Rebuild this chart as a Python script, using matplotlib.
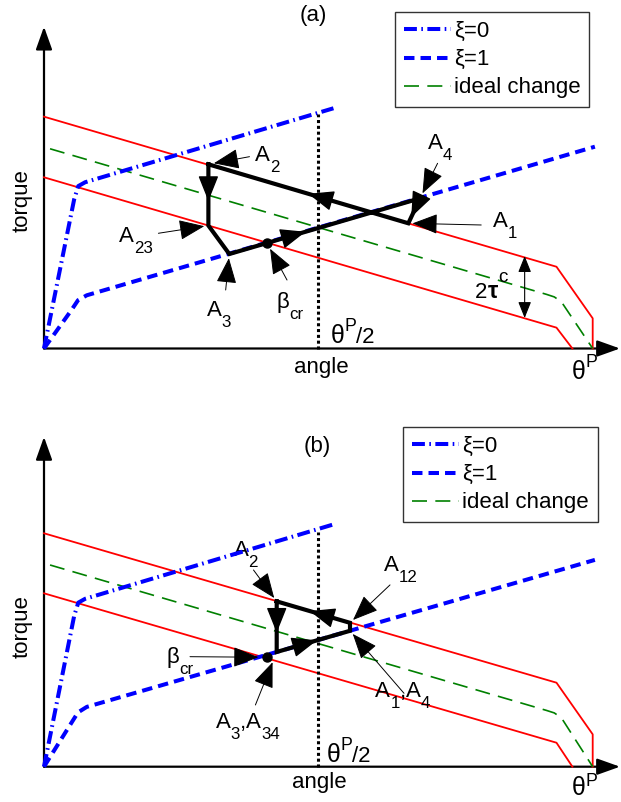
import numpy as np
import matplotlib
matplotlib.use("Agg")
import matplotlib.pyplot as plt
from matplotlib.lines import Line2D
from matplotlib.transforms import offset_copy

plt.rcParams['font.family'] = ['Liberation Sans', 'DejaVu Sans']

W, H, DPI = 621, 802, 100
PX = 548.7        # pixels per unit angle (theta^P = 1)
X0 = 44           # pixel column of the torque axis
HALF = 0.5        # theta^P / 2

# ---------------- panel (a) ----------------
UPPER_A_X = [0.0, 0.934, 1.0, 1.0]
UPPER_A_Y = [0.4225, 0.149, 0.055, 0.0]
LOWER_A_X = [0.0, 0.934, 0.963]
LOWER_A_Y = [0.312, 0.038, 0.0]
IDEAL_A_X = [0.011, 0.916, 0.930, 0.943, 1.0]
IDEAL_A_Y = [0.364, 0.0986, 0.094, 0.085, 0.0]
XI0_A_X = [0.0, 0.055, 0.0625, 0.075, 0.5275]
XI0_A_Y = [0.0, 0.272, 0.296, 0.303, 0.4378]
XI1_A_X = [0.0, 0.050, 0.062, 0.078, 1.004]
XI1_A_Y = [0.0, 0.070, 0.088, 0.097, 0.3678]
# operating path A2 -> A23 -> A3 -> A4 -> A1 -> A2
LOOP_A_X = [0.2996, 0.2996, 0.3377, 0.6853, 0.664, 0.2996]
LOOP_A_Y = [0.3357, 0.2241, 0.1722, 0.2737, 0.2282, 0.3357]
BETA_A = (0.406, 0.1929)
DOT_TOP_A = 0.428
YTIP_A = 0.5865

# ---------------- panel (b) ----------------
UPPER_B_X = [0.0, 0.934, 1.0, 1.0]
UPPER_B_Y = [0.4254, 0.1531, 0.059, 0.0]
LOWER_B_X = [0.0, 0.934, 0.963]
LOWER_B_Y = [0.316, 0.0437, 0.0]
IDEAL_B_X = [0.011, 0.916, 0.930, 0.943, 1.0]
IDEAL_B_Y = [0.3676, 0.1025, 0.098, 0.089, 0.0]
XI0_B_X = [0.0, 0.055, 0.0625, 0.075, 0.530]
XI0_B_Y = [0.0, 0.275, 0.299, 0.306, 0.4423]
XI1_B_X = [0.0, 0.050, 0.062, 0.078, 1.004]
XI1_B_Y = [0.0, 0.080, 0.099, 0.109, 0.3769]
# operating path A2 -> A3,A34 -> A1,A4 -> A12 -> A2
LOOP_B_X = [0.4241, 0.4241, 0.5577, 0.5577, 0.4241]
LOOP_B_Y = [0.3013, 0.2091, 0.2477, 0.2622, 0.3013]
BETA_B = (0.4058, 0.1994)
DOT_TOP_B = 0.428
YTIP_B = 0.601

LEGEND_LABELS = ['ξ=0', 'ξ=1', 'ideal change']

RED, BLUE, GREEN = '#ff0000', '#0000ff', '#008000'
XI0_DASH = (3.2, 1.1, 0.4, 1.1)
XI1_DASH = (2.6, 1.5)
IDEAL_DASH = (9, 5)

HEAD = '-|>,head_length=0.8,head_width=0.32'
FS = 16           # base text size

fig = plt.figure(figsize=(W / DPI, H / DPI), dpi=DPI)
renderer = fig.canvas.get_renderer()


def make_panel(top, height, origin_y):
    ax = fig.add_axes([0, 1 - (top + height) / H, 1, height / H])
    ax.set_xlim(-X0 / PX, (W - X0) / PX)
    ax.set_ylim((origin_y - top - height) / PX, (origin_y - top) / PX)
    ax.set_axis_off()
    return ax


def rich(ax, x, y, pieces, size=FS):
    """Write pieces side by side; each piece is (text, rel_size, shift_em[, weight])."""
    xoff = 0.0
    for piece in pieces:
        text, rel, shift = piece[:3]
        weight = piece[3] if len(piece) > 3 else 'normal'
        tr = offset_copy(ax.transData, fig=fig, x=xoff, y=shift * size,
                         units='points')
        t = ax.text(x, y, text, fontsize=size * rel, fontweight=weight,
                    ha='left', va='baseline', transform=tr)
        xoff += t.get_window_extent(renderer).width * 72 / DPI


def sub(base, s):
    return [(base, 1, 0), (s, 0.76, -0.5)]


def theta_p(raise_em=0.55):
    return [('θ', 1.12, 0), ('P', 0.8, raise_em)]


def pointer(ax, tail, tip, shrink=1):
    ax.annotate('', xy=tip, xytext=tail,
                arrowprops=dict(arrowstyle=HEAD, mutation_scale=20, lw=0.7,
                                color='k', shrinkA=0, shrinkB=shrink),
                zorder=6)


def flow_arrow(ax, xs, ys, seg, frac):
    p = np.array([xs[seg], ys[seg]])
    q = np.array([xs[seg + 1], ys[seg + 1]])
    u = (q - p) / np.hypot(*(q - p))
    tip = p + frac * (q - p)
    ax.annotate('', xy=tip, xytext=tip - 0.02 * u,
                arrowprops=dict(arrowstyle=HEAD, mutation_scale=20, lw=1,
                                color='k', shrinkA=0, shrinkB=0),
                zorder=7)


def draw_panel(ax, upper, lower, ideal, xi0, xi1, loop, beta, dot_top, ytip,
               legend_anchor):
    # axes with arrow heads
    for end in [(0, ytip), (1.0497, 0)]:
        ax.annotate('', xy=end, xytext=(0, 0),
                    arrowprops=dict(arrowstyle='-|>,head_length=0.7,head_width=0.25',
                                    mutation_scale=20, lw=1.6, color='k',
                                    shrinkA=0, shrinkB=0))

    ax.plot(*upper, color=RED, lw=1.3, zorder=3)
    ax.plot(*lower, color=RED, lw=1.3, zorder=3)
    ax.plot(*ideal, color=GREEN, lw=1.2, dashes=IDEAL_DASH, zorder=3)
    ax.plot(*xi0, color=BLUE, lw=2.9, dashes=XI0_DASH, zorder=4)
    ax.plot(*xi1, color=BLUE, lw=2.9, dashes=XI1_DASH, zorder=4)
    ax.plot([HALF, HALF], [0, dot_top], color='k', lw=2.2,
            dashes=(1, 0.9), zorder=4)

    ax.plot(*loop, color='k', lw=3, solid_joinstyle='miter', zorder=5)
    ax.plot(*beta, 'o', color='k', ms=6.5, zorder=6)

    handles = [Line2D([], [], color=BLUE, lw=2.9, dashes=XI0_DASH),
               Line2D([], [], color=BLUE, lw=2.9, dashes=XI1_DASH),
               Line2D([], [], color=GREEN, lw=1.2, dashes=IDEAL_DASH)]
    leg = ax.legend(handles, LEGEND_LABELS, loc='upper left',
                    bbox_to_anchor=legend_anchor, bbox_transform=fig.transFigure,
                    fontsize=FS, frameon=True, fancybox=False, framealpha=1,
                    edgecolor='#333333', handlelength=2.1, handletextpad=0.15,
                    borderpad=0.4, labelspacing=0.32, borderaxespad=0)
    leg.get_frame().set_linewidth(1.0)


# ---------------- panel (a) ----------------
axa = make_panel(0, 400, 348.5)
draw_panel(axa, (UPPER_A_X, UPPER_A_Y), (LOWER_A_X, LOWER_A_Y),
           (IDEAL_A_X, IDEAL_A_Y), (XI0_A_X, XI0_A_Y), (XI1_A_X, XI1_A_Y),
           (LOOP_A_X, LOOP_A_Y), BETA_A, DOT_TOP_A, YTIP_A,
           (395 / W, 1 - 12.3 / H))

flow_arrow(axa, LOOP_A_X, LOOP_A_Y, 0, 0.6)
flow_arrow(axa, LOOP_A_X, LOOP_A_Y, 2, 0.40)
flow_arrow(axa, LOOP_A_X, LOOP_A_Y, 3, 0.75)
flow_arrow(axa, LOOP_A_X, LOOP_A_Y, 4, 0.50)

pointer(axa, (0.3745, 0.3496), (LOOP_A_X[0], LOOP_A_Y[0]), shrink=4)
pointer(axa, (0.2085, 0.2100), (LOOP_A_X[1], LOOP_A_Y[1]), shrink=3)
pointer(axa, (0.3311, 0.1066), (LOOP_A_X[2], LOOP_A_Y[2]), shrink=3)
pointer(axa, (0.7173, 0.3375), (LOOP_A_X[3], LOOP_A_Y[3]), shrink=4)
pointer(axa, (0.7968, 0.2251), (LOOP_A_X[4], LOOP_A_Y[4]), shrink=3)
pointer(axa, (0.4429, 0.1248), BETA_A, shrink=5)
# 2 tau^c gap between the friction bounds
axa.annotate('', xy=(0.876, 0.1685), xytext=(0.876, 0.0555),
             arrowprops=dict(arrowstyle='<|-|>,head_length=0.5,head_width=0.2',
                             mutation_scale=20, lw=0.8, color='k',
                             shrinkA=0, shrinkB=0))

rich(axa, 0.3846, 0.3422, sub('A', '2'))
rich(axa, 0.6993, 0.3636, sub('A', '4'))
rich(axa, 0.8183, 0.2220, sub('A', '1'))
rich(axa, 0.1363, 0.1946, sub('A', '23'))
rich(axa, 0.2965, 0.0598, sub('A', '3'))
rich(axa, 0.4235, 0.0736, sub('β', 'cr'))
rich(axa, 0.5225, 0.0095, theta_p() + [('/2', 1, 0)])
rich(axa, 0.7855, 0.0915, [('2', 1, 0), ('τ', 1.05, 0, 'bold'), ('c', 0.85, 0.75)])
rich(axa, 0.9623, -0.0560, theta_p(0.55))
axa.text(0.506, -0.0452, 'angle', ha='center', va='baseline', fontsize=FS)
axa.text(-0.040, 0.2688, 'torque', ha='center', va='center', rotation=90,
         fontsize=FS)
axa.text(0.490, 0.6078, '(a)', ha='center', va='center', fontsize=FS)

# ---------------- panel (b) ----------------
axb = make_panel(400, 402, 766.7)
draw_panel(axb, (UPPER_B_X, UPPER_B_Y), (LOWER_B_X, LOWER_B_Y),
           (IDEAL_B_X, IDEAL_B_Y), (XI0_B_X, XI0_B_Y), (XI1_B_X, XI1_B_Y),
           (LOOP_B_X, LOOP_B_Y), BETA_B, DOT_TOP_B, YTIP_B,
           (403.3 / W, 1 - 427.3 / H))

flow_arrow(axb, LOOP_B_X, LOOP_B_Y, 0, 0.62)
flow_arrow(axb, LOOP_B_X, LOOP_B_Y, 1, 0.55)
flow_arrow(axb, LOOP_B_X, LOOP_B_Y, 3, 0.55)

pointer(axb, (0.3818, 0.3585), (LOOP_B_X[0], LOOP_B_Y[0]), shrink=3)
pointer(axb, (0.6306, 0.3313), (LOOP_B_X[3], LOOP_B_Y[3]), shrink=3)
pointer(axb, (0.6561, 0.1338), (LOOP_B_X[2], LOOP_B_Y[2]), shrink=3)
pointer(axb, (0.3853, 0.1125), (LOOP_B_X[1], LOOP_B_Y[1]), shrink=8)
pointer(axb, (0.2661, 0.2005), BETA_B, shrink=6)

rich(axb, 0.3457, 0.3841, sub('A', '2'))
rich(axb, 0.6197, 0.3572, sub('A', '12'))
rich(axb, 0.2229, 0.1884, sub('β', 'cr'))
rich(axb, 0.3131, 0.0700, sub('A', '3') + [(',', 1, 0)] + sub('A', '34'))
rich(axb, 0.6040, 0.1272, sub('A', '1') + [(',', 1, 0)] + sub('A', '4'))
rich(axb, 0.5152, 0.0090, theta_p() + [('/2', 1, 0)])
rich(axb, 0.9623, -0.0510, theta_p(0.4))
axb.text(0.5026, -0.0394, 'angle', ha='center', va='baseline', fontsize=FS)
axb.text(-0.0405, 0.2551, 'torque', ha='center', va='center', rotation=90,
         fontsize=FS)
axb.text(0.4971, 0.5841, '(b)', ha='center', va='center', fontsize=FS)

fig.savefig('out.png', dpi=DPI)
